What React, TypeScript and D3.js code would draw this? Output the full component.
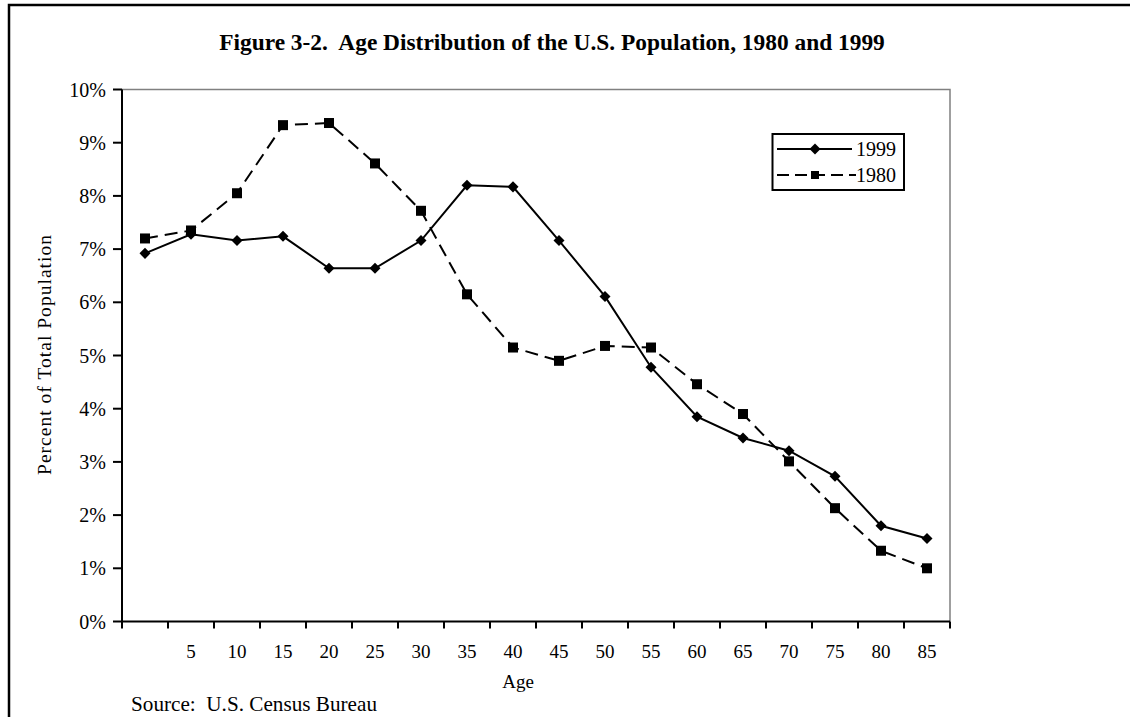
import React, { useEffect, useRef } from 'react';
import * as d3 from 'd3';

// age groups (first group is 0-4, drawn without a label)
const ageLabels = ['', '5', '10', '15', '20', '25', '30', '35', '40', '45', '50', '55', '60', '65', '70', '75', '80', '85'];
const pop1999 = [6.92, 7.28, 7.16, 7.24, 6.64, 6.64, 7.16, 8.2, 8.17, 7.16, 6.11, 4.78, 3.85, 3.45, 3.21, 2.73, 1.8, 1.56];
const pop1980 = [7.2, 7.35, 8.05, 9.33, 9.37, 8.61, 7.72, 6.15, 5.15, 4.9, 5.18, 5.15, 4.46, 3.9, 3.01, 2.13, 1.33, 1.0];
const yTicks = [0, 1, 2, 3, 4, 5, 6, 7, 8, 9, 10];

const FONT = '"Liberation Serif", "Times New Roman", serif';

const App = () => {
  const svgRef = useRef<SVGSVGElement>(null);

  useEffect(() => {
    document.body.style.margin = '0';
    const w = 1130;
    const h = 717;
    const left = 122, right = 950, top = 89.5, bottom = 621.5;

    const svg = d3.select(svgRef.current).attr('width', w).attr('height', h).style('background', '#fff');
    svg.selectAll('*').remove();

    // outer frame
    svg.append('rect')
      .attr('x', 9).attr('y', 5).attr('width', 1300).attr('height', 900)
      .attr('fill', 'none').attr('stroke', '#000').attr('stroke-width', 2.5);

    const x = d3.scaleLinear().domain([0, ageLabels.length]).range([left, right]);
    const y = d3.scaleLinear().domain([0, 10]).range([bottom, top]);

    // plot area top/right border (gray)
    svg.append('path')
      .attr('d', `M${left},${top}H${right}V${bottom}`)
      .attr('fill', 'none').attr('stroke', '#808080').attr('stroke-width', 1.5);

    // y axis
    const yAxis = svg.append('g');
    yAxis.append('line').attr('x1', left).attr('x2', left).attr('y1', top).attr('y2', bottom)
      .attr('stroke', '#000').attr('stroke-width', 2);
    yTicks.forEach((t) => {
      yAxis.append('line').attr('x1', left - 9).attr('x2', left).attr('y1', y(t)).attr('y2', y(t))
        .attr('stroke', '#000').attr('stroke-width', 2);
      yAxis.append('text').attr('x', 106).attr('y', y(t)).attr('dy', '0.35em')
        .attr('text-anchor', 'end').style('font-family', FONT).style('font-size', '20px')
        .text(`${t}%`);
    });

    // x axis
    const xAxis = svg.append('g');
    xAxis.append('line').attr('x1', left).attr('x2', right).attr('y1', bottom).attr('y2', bottom)
      .attr('stroke', '#000').attr('stroke-width', 2);
    d3.range(ageLabels.length + 1).forEach((i) => {
      xAxis.append('line').attr('x1', x(i)).attr('x2', x(i)).attr('y1', bottom).attr('y2', bottom + 7)
        .attr('stroke', '#000').attr('stroke-width', 2);
    });
    ageLabels.forEach((l, i) => {
      xAxis.append('text').attr('x', x(i + 0.5)).attr('y', 658)
        .attr('text-anchor', 'middle').style('font-family', FONT).style('font-size', '19px')
        .text(l);
    });

    // lines
    const line = d3.line<number>().x((d, i) => x(i + 0.5)).y((d) => y(d));
    svg.append('path').attr('d', line(pop1980)).attr('fill', 'none')
      .attr('stroke', '#000').attr('stroke-width', 2).attr('stroke-dasharray', '13,7');
    svg.append('path').attr('d', line(pop1999)).attr('fill', 'none')
      .attr('stroke', '#000').attr('stroke-width', 2);

    const diamond = d3.symbol().type(d3.symbolDiamond2).size(78);
    svg.selectAll('.sq').data(pop1980).join('rect')
      .attr('x', (d, i) => x(i + 0.5) - 5).attr('y', (d) => y(d) - 5)
      .attr('width', 10).attr('height', 10).attr('fill', '#000');
    svg.selectAll('.dm').data(pop1999).join('path')
      .attr('d', diamond())
      .attr('transform', (d, i) => `translate(${x(i + 0.5)},${y(d)})`)
      .attr('fill', '#000');

    // legend
    const lg = svg.append('g');
    lg.append('rect').attr('x', 772.5).attr('y', 134).attr('width', 131.5).attr('height', 56)
      .attr('fill', '#fff').attr('stroke', '#000').attr('stroke-width', 2);
    lg.append('line').attr('x1', 777).attr('x2', 852).attr('y1', 149).attr('y2', 149)
      .attr('stroke', '#000').attr('stroke-width', 2);
    lg.append('path').attr('d', diamond()).attr('transform', 'translate(815,149)').attr('fill', '#000');
    lg.append('line').attr('x1', 777).attr('x2', 856).attr('y1', 175).attr('y2', 175)
      .attr('stroke', '#000').attr('stroke-width', 2).attr('stroke-dasharray', '12,6');
    lg.append('rect').attr('x', 811).attr('y', 171).attr('width', 8).attr('height', 8).attr('fill', '#000');
    lg.append('text').attr('x', 856).attr('y', 149).attr('dy', '0.35em')
      .style('font-family', FONT).style('font-size', '20px').text('1999');
    lg.append('text').attr('x', 856).attr('y', 175).attr('dy', '0.35em')
      .style('font-family', FONT).style('font-size', '20px').text('1980');

    // titles
    svg.append('text').attr('x', 552).attr('y', 50).attr('text-anchor', 'middle')
      .attr('xml:space', 'preserve')
      .style('font-family', FONT).style('font-size', '23.4px').style('font-weight', 'bold')
      .style('white-space', 'pre')
      .text('Figure 3-2.  Age Distribution of the U.S. Population, 1980 and 1999');

    svg.append('text').attr('transform', 'translate(51,355) rotate(-90)')
      .attr('text-anchor', 'middle')
      .attr('textLength', 240).attr('lengthAdjust', 'spacing')
      .style('font-family', FONT).style('font-size', '19.5px')
      .text('Percent of Total Population');

    svg.append('text').attr('x', 518).attr('y', 688).attr('text-anchor', 'middle')
      .style('font-family', FONT).style('font-size', '19px').text('Age');

    svg.append('text').attr('x', 131).attr('y', 711)
      .attr('xml:space', 'preserve')
      .style('font-family', FONT).style('font-size', '21.2px').style('white-space', 'pre')
      .text('Source:  U.S. Census Bureau');
  }, []);

  return <svg ref={svgRef} style={{ display: 'block' }}></svg>;
};

export default App;
